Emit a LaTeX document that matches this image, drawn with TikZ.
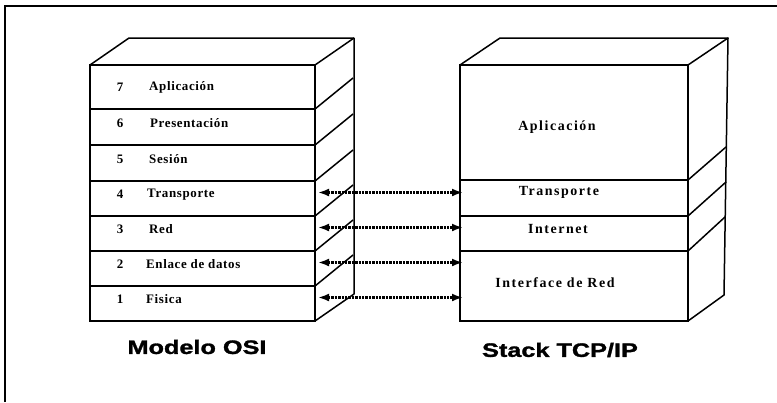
\documentclass[tikz,border=0pt]{standalone}
\usepackage{fontspec}
\setmainfont{Liberation Serif}
\newfontfamily\lfont{Liberation Serif}[LetterSpace=5]
\newfontfamily\rfont{Liberation Serif}[LetterSpace=11]
\newfontfamily\tfont{Liberation Sans}[FakeStretch=1.3,FakeBold=1.5]
\usetikzlibrary{arrows.meta}
\begin{document}
\begin{tikzpicture}[x=1bp,y=-1bp,
  edge/.style={line width=1.5bp, line join=round},
  layerL/.style={draw, line width=1.5bp, minimum width=225bp, anchor=north west, inner sep=0pt, outer sep=0pt},
  layerR/.style={draw, line width=1.5bp, minimum width=228bp, anchor=north west, inner sep=0pt, outer sep=0pt},
  lbl/.style={inner sep=0pt, font=\lfont\bfseries\fontsize{13}{15}\selectfont},
  rlbl/.style={inner sep=0pt, font=\rfont\bfseries\fontsize{14}{16}\selectfont},
  title/.style={inner sep=0pt, font=\tfont\bfseries\fontsize{19.5}{22}\selectfont},
  biarrow/.style={line width=2.2bp, dash pattern=on 2.5bp off 0.9bp,
    {Latex[length=11bp,width=8bp]}-{Latex[length=11bp,width=8bp]}}
]
\useasboundingbox (0,0) rectangle (777,402);
% frame
\draw[line width=2bp] (5,402) -- (5,6) -- (777,6);

% ---- left stack (OSI) ----
\node[layerL, minimum height=44bp] (L7) at (90,65) {};
\node[layerL, minimum height=36bp] (L6) at (90,109) {};
\node[layerL, minimum height=36bp] (L5) at (90,145) {};
\node[layerL, minimum height=35bp] (L4) at (90,181) {};
\node[layerL, minimum height=35bp] (L3) at (90,216) {};
\node[layerL, minimum height=35bp] (L2) at (90,251) {};
\node[layerL, minimum height=35bp] (L1) at (90,286) {};
\draw[edge] (L7.north west) -- (129,38) -- (354,38) -- (354,294) -- (L1.south east);
\draw[edge] (L7.north east) -- (354,38);
\foreach \n in {L7,L6,L5,L4,L3,L2}{
  \draw[edge] (\n.south east) -- ++(38,-31);
}

\node[lbl] (n7) at ([xshift=30bp]L7.west) {7};
\node[lbl, anchor=west] (t7) at ([xshift=59bp]L7.west) {Aplicación};
\node[lbl] (n6) at ([xshift=30bp,yshift=4bp]L6.west) {6};
\node[lbl, anchor=west] (t6) at ([xshift=60bp,yshift=4bp]L6.west) {Presentación};
\node[lbl] (n5) at ([xshift=30bp,yshift=4bp]L5.west) {5};
\node[lbl, anchor=west] (t5) at ([xshift=59bp,yshift=4bp]L5.west) {Sesión};
\node[lbl] (n4) at ([xshift=30bp,yshift=4bp]L4.west) {4};
\node[lbl, anchor=west] (t4) at ([xshift=57bp,yshift=4bp]L4.west) {Transporte};
\node[lbl] (n3) at ([xshift=30bp,yshift=4bp]L3.west) {3};
\node[lbl, anchor=west] (t3) at ([xshift=59bp,yshift=4bp]L3.west) {Red};
\node[lbl] (n2) at ([xshift=30bp,yshift=4bp]L2.west) {2};
\node[lbl, anchor=west] (t2) at ([xshift=56bp,yshift=4bp]L2.west) {Enlace de datos};
\node[lbl] (n1) at ([xshift=30bp,yshift=4bp]L1.west) {1};
\node[lbl, anchor=west] (t1) at ([xshift=56bp,yshift=4bp]L1.west) {Fisica};

% ---- right stack (TCP/IP) ----
\node[layerR, minimum height=115bp] (T7) at (460,65) {};
\node[layerR, minimum height=36bp] (T4) at (460,180) {};
\node[layerR, minimum height=35bp] (T3) at (460,216) {};
\node[layerR, minimum height=70bp] (T1) at (460,251) {};
\draw[edge] (T7.north west) -- (500,38) -- (728,38) -- (724,295) -- (T1.south east);
\draw[edge] (T7.north east) -- (728,38);
\draw[edge] (T7.south east) -- ++(38,-33);
\draw[edge] (T4.south east) -- ++(38,-34);
\draw[edge] (T3.south east) -- ++(37,-34);

\node[rlbl] (r7) at ([xshift=-17bp,yshift=-5bp]T7.center) {Aplicación};
\node[rlbl] (r4) at ([xshift=-15bp,yshift=6bp]T4.center) {Transporte};
\node[rlbl] (r3) at ([xshift=-16bp,yshift=5bp]T3.center) {Internet};
\node[rlbl] (r1) at ([xshift=-19bp,yshift=3bp]T1.center) {Interface de Red};

% ---- arrows ----
\draw[biarrow] ([xshift=3bp,yshift=6bp]L4.east) -- ([xshift=3bp,yshift=6bp]L4.east -| T4.west);
\draw[biarrow] ([xshift=3bp,yshift=6bp]L3.east) -- ([xshift=3bp,yshift=6bp]L3.east -| T3.west);
\draw[biarrow] ([xshift=3bp,yshift=6bp]L2.east) -- ([xshift=3bp,yshift=6bp]L2.east -| T1.west);
\draw[biarrow] ([xshift=3bp,yshift=6bp]L1.east) -- ([xshift=3bp,yshift=6bp]L1.east -| T1.west);

% ---- titles ----
\node[title] (m) at (197,347) {Modelo OSI};
\node[title] (s) at (560,350) {Stack TCP/IP};
\end{tikzpicture}
\end{document}
